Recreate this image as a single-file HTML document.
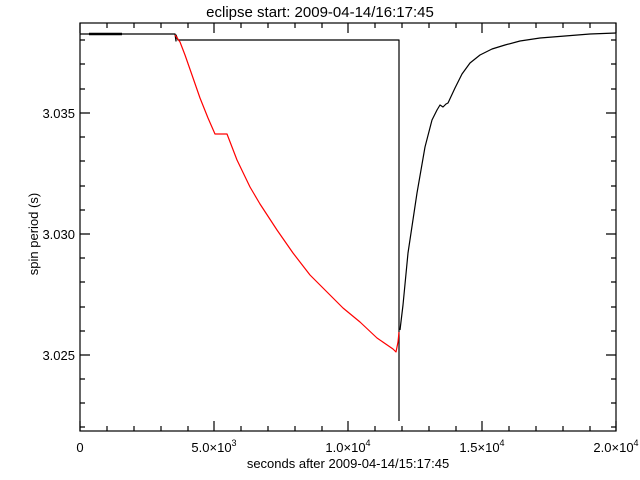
<!DOCTYPE html>
<html><head><meta charset="utf-8"><style>
html,body{margin:0;padding:0;background:#fff;}
svg{display:block;font-family:"Liberation Sans","DejaVu Sans",sans-serif;}
</style></head><body>
<svg width="640" height="480" viewBox="0 0 640 480" xmlns="http://www.w3.org/2000/svg">
<rect width="640" height="480" fill="#fff"/>
<text x="320" y="17" font-size="15" text-anchor="middle" fill="#000">eclipse start: 2009-04-14/16:17:45</text>
<g stroke="#000" stroke-width="1.2" fill="none">
<rect x="80" y="23" width="536" height="408"/>
<!-- x ticks -->
<path d="M80,431v-10M214,431v-10M348,431v-10M482,431v-10M616,431v-10
M80,23v10M214,23v10M348,23v10M482,23v10M616,23v10
M107,431v-5M134,431v-5M161,431v-5M188,431v-5M241,431v-5M268,431v-5M295,431v-5M322,431v-5M375,431v-5M402,431v-5M429,431v-5M456,431v-5M509,431v-5M536,431v-5M563,431v-5M590,431v-5
M107,23v5M134,23v5M161,23v5M188,23v5M241,23v5M268,23v5M295,23v5M322,23v5M375,23v5M402,23v5M429,23v5M456,23v5M509,23v5M536,23v5M563,23v5M590,23v5"/>
<!-- y ticks -->
<path d="M80,113h10M80,234h10M80,355h10M616,113h-10M616,234h-10M616,355h-10
M80,40h5M80,64h5M80,89h5M80,137h5M80,161h5M80,186h5M80,210h5M80,258h5M80,282h5M80,307h5M80,331h5M80,379h5M80,403h5M80,427h5
M616,40h-5M616,64h-5M616,89h-5M616,137h-5M616,161h-5M616,186h-5M616,210h-5M616,258h-5M616,282h-5M616,307h-5M616,331h-5M616,379h-5M616,403h-5M616,427h-5"/>
</g>
<g font-size="13" fill="#000">
<text x="80" y="452" text-anchor="middle">0</text>
<text x="214" y="452" text-anchor="middle">5.0×10<tspan font-size="9" dy="-6">3</tspan></text>
<text x="348" y="452" text-anchor="middle">1.0×10<tspan font-size="9" dy="-6">4</tspan></text>
<text x="482" y="452" text-anchor="middle">1.5×10<tspan font-size="9" dy="-6">4</tspan></text>
<text x="616" y="452" text-anchor="middle">2.0×10<tspan font-size="9" dy="-6">4</tspan></text>
<text x="348" y="468" text-anchor="middle">seconds after 2009-04-14/15:17:45</text>
<text x="75" y="118" text-anchor="end">3.035</text>
<text x="75" y="239" text-anchor="end">3.030</text>
<text x="75" y="360" text-anchor="end">3.025</text>
<text transform="translate(38,234) rotate(-90)" text-anchor="middle">spin period (s)</text>
</g>
<g fill="none" stroke-width="1.2" stroke-linejoin="round">
<path stroke="#000" d="M80,34H175L176,41V35L178,40H399V421"/>
<path stroke="#000" stroke-width="2.5" d="M89,34H122"/>
<path stroke="#f00" d="M175,35L180,42L185,55L192,75L200,98L208,118L215,134H227L237,160L250,187L260,204L277,230L293,253L310,275L327,292L343,308L360,322L377,338L393,349L396,352L398,342L399,332"/>
<path stroke="#000" d="M400,330L403,305L408,253L417,193L425,147L432,120L437,110L440,105L443,107L446,104L448,103L455,88L462,74L470,63L480,55L492,49L505,45L520,41L540,38L565,36L590,34L616,33"/>
</g>
</svg>
</body></html>
